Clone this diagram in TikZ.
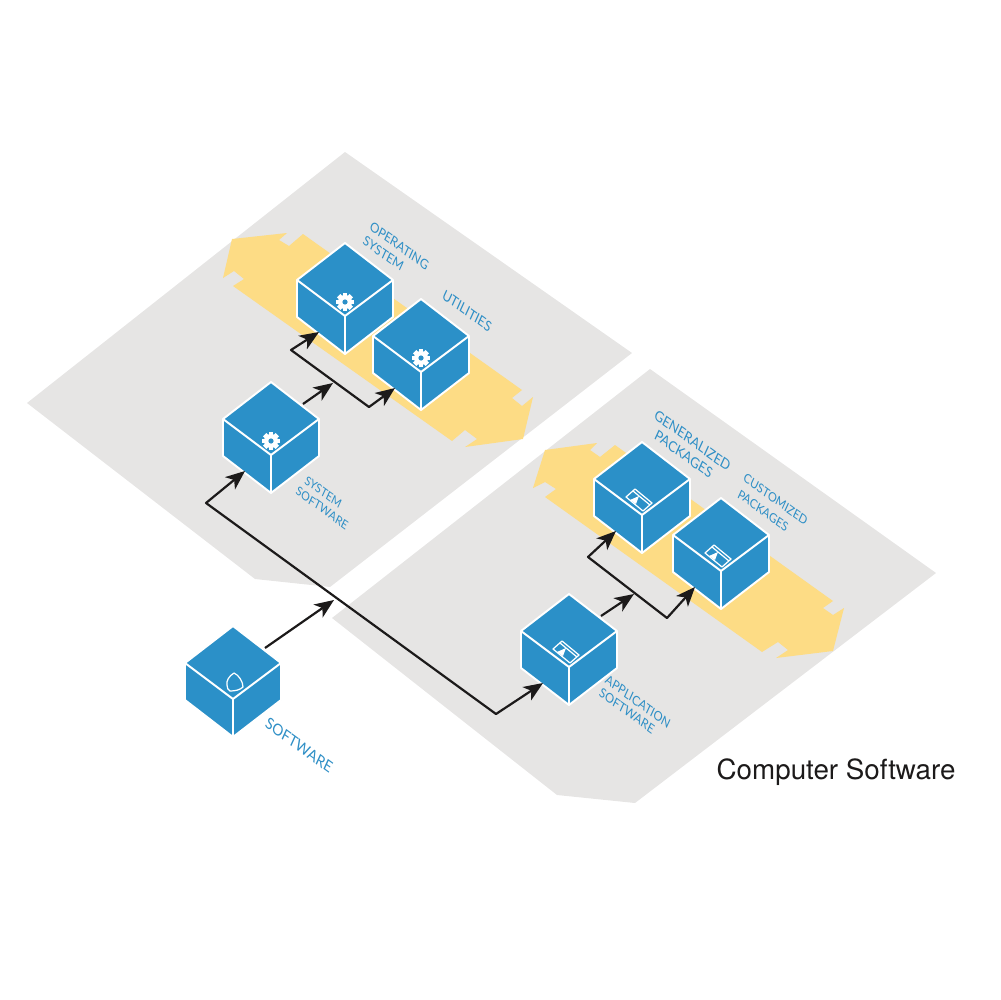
\documentclass[tikz,border=0pt]{standalone}
\usepackage{fontspec}
\newfontfamily\labelfont{Lato}
\newfontfamily\titlefont{TeX Gyre Heros}
\usetikzlibrary{arrows.meta}

\definecolor{panelgray}{HTML}{E6E5E4}
\definecolor{bandyellow}{HTML}{FDDC85}
\definecolor{cubeblue}{HTML}{2B90C8}
\definecolor{textblue}{HTML}{2F8FC6}
\definecolor{flowblack}{HTML}{1C1A1A}

\tikzset{
  panel/.style={fill=panelgray, draw=none},
  band/.style={fill=bandyellow, draw=none},
  cubeface/.style={fill=cubeblue, draw=white, line width=1.1pt, line join=round},
  cubeedge/.style={draw=white, line width=1.1pt},
  cubenode/.style={inner sep=0pt, minimum size=0pt},
  iconline/.style={draw=white, line width=0.7pt, line join=round},
  flow/.style={draw=flowblack, line width=1.25pt, line join=round,
    arrows={-Stealth[length=11pt,width=9pt,inset=3pt]}},
  flowboth/.style={flow, arrows={Stealth[length=11pt,width=9pt,inset=3pt]-Stealth[length=11pt,width=9pt,inset=3pt]}},
  isolabel/.style 2 args={rotate=-36, xslant=-0.2, transform shape, text=textblue, align=left,
    inner sep=0pt, font=\labelfont\fontsize{#1}{#2}\selectfont},
}

% cube icons, relative to the near corner of the cube
\newcommand{\gearicon}{
  \foreach \a in {0,45,...,315}
    \fill[white, rotate around={\a:(0,-14)}] (-2.4,-23) rectangle (2.4,-14);
  \fill[white] (0,-14) circle (7);
  \fill[cubeblue] (0,-14) circle (2.6);
}
\newcommand{\packageicon}{
  \draw[iconline] (-7,-26) -- (-16,-18) -- (1,-4) -- (10,-12) -- cycle;
  \draw[iconline] (-9,-24) -- (8,-10);
  \fill[white] (-12,-15) -- (-3,-19) -- (-6,-11) -- cycle;
}
\newcommand{\shieldicon}{
  \draw[iconline] (1,-26) .. controls (-4,-23) and (-7,-18) .. (-6,-14)
    .. controls (-6,-11) and (-5,-9) .. (-3,-8)
    .. controls (2,-8) and (7,-9) .. (10,-12)
    .. controls (10,-17) and (6,-24) .. (1,-26) -- cycle;
}
% name, position, icon
\newcommand{\softcube}[3]{
  \node[cubenode] (#1) at (#2) {};
  \begin{scope}[shift={(#2)}]
    \draw[cubeface] (0,-73) -- (48,-36) -- (48,1) -- (0,38) -- (-48,1) -- (-48,-36) -- cycle;
    \draw[cubeedge] (-48,-36) -- (0,0) -- (48,-36);
    \draw[cubeedge] (0,0) -- (0,38);
    #3
    \coordinate (#1-in) at (-26,16);
    \coordinate (#1-out) at (32,-51);
  \end{scope}
}

\begin{document}
\begin{tikzpicture}[x=0.02cm, y=-0.02cm]
  \useasboundingbox (0,0) rectangle (1000,1000);

  % panels
  \fill[panel] (345,152) -- (632,353) -- (330,587) -- (255,579) -- (27,403) -- cycle;
  \fill[panel] (650,369) -- (936,573) -- (635,803) -- (557,795) -- (332,618) -- cycle;

  % bands
  \fill[band] (232,239) -- (287,233) -- (279,240) -- (289,246) -- (303,234) -- (522,390) -- (512,398)
    -- (522,406) -- (533,397) -- (523,439) -- (465,447) -- (477,439) -- (465,430) -- (452,441)
    -- (233,286) -- (244,279) -- (234,271) -- (223,278) -- cycle;
  \fill[band] (545,450) -- (597,443) -- (590,450) -- (600,457) -- (615,445) -- (833,601) -- (823,608)
    -- (833,615) -- (844,608) -- (833,651) -- (776,658) -- (788,650) -- (778,642) -- (762,652)
    -- (545,497) -- (556,489) -- (545,482) -- (533,488) -- cycle;

  % cubes
  \softcube{opsys}{345,316}{\gearicon}
  \softcube{utilities}{421,372}{\gearicon}
  \softcube{syssoft}{271,455}{\gearicon}
  \softcube{software}{233,699}{\shieldicon}
  \softcube{appsoft}{569,667}{\packageicon}
  \softcube{genpack}{642,515}{\packageicon}
  \softcube{custpack}{721,571}{\packageicon}

  % branch points
  \coordinate (mainleft) at (206,503);
  \coordinate (mainright) at (496,714);
  \coordinate (mainjoin) at (334,600);
  \coordinate (sysleft) at (291,350);
  \coordinate (sysright) at (369,407);
  \coordinate (sysjoin) at (333,383);
  \coordinate (appleft) at (588,557);
  \coordinate (appright) at (667,618);
  \coordinate (appjoin) at (634,594);

  % connectors
  \draw[flowboth] (syssoft-in) -- (mainleft) -- (mainright) -- (appsoft-in);
  \draw[flow] (software-out) -- (mainjoin);
  \draw[flowboth] (opsys-in) -- (sysleft) -- (sysright) -- (utilities-in);
  \draw[flow] (syssoft-out) -- (sysjoin);
  \draw[flowboth] (genpack-in) -- (appleft) -- (appright) -- (custpack-in);
  \draw[flow] (appsoft-out) -- (appjoin);

  % labels
  \node[isolabel={7.2}{9}] (oslabel) at (396,253) {OPERATING\\SYSTEM};
  \node[isolabel={7.6}{9}] (utlabel) at (467,311) {UTILITIES};
  \node[isolabel={6.6}{7.8}] (sslabel) at (325,502) {\hspace*{2pt}SYSTEM\\SOFTWARE};
  \node[isolabel={8.5}{9}] (swlabel) at (299,745) {SOFTWARE};
  \node[isolabel={7}{7.8}] (aslabel) at (635,708) {APPLICATION\\SOFTWARE};
  \node[isolabel={7.8}{9.2}] (gplabel) at (689,448) {GENERALIZED\\\hspace*{5pt}PACKAGES};
  \node[isolabel={6.8}{9.5}] (cplabel) at (772,507) {CUSTOMIZED\\\hspace*{1pt}PACKAGES};
  \node[text=flowblack, inner sep=0pt, font=\titlefont\fontsize{15.8}{19}\selectfont] (title) at (836,772) {Computer Software};
\end{tikzpicture}
\end{document}
